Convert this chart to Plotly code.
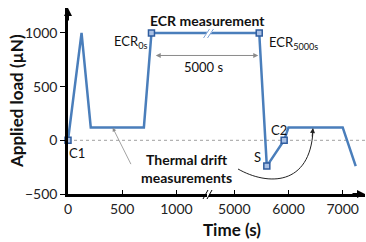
import plotly.graph_objects as go

# ---- data ----
time_s = [0, 125, 210, 700, 770, 5460, 5600, 5920, 6000, 7000, 7240]
load_uN = [0, 1000, 120, 120, 1000, 1000, -240, 0, 120, 120, -240]
marker_time = [0, 770, 5460, 5600, 5920]
marker_load = [0, 1000, 1000, -240, 0]
x1_ticks = [0, 500, 1000]
x2_ticks = [5000, 6000, 7000]
y_ticks = [-500, 0, 500, 1000]

FONT = "Lato"
BLUE = "#4a7ebb"

W, H = 366, 242
ML, MR, MT, MB = 68, 1, 8, 48
PW, PH = W - ML - MR, H - MT - MB


def px(x):
    return (x - ML) / PW


def py(y):
    return (H - MB - y) / PH


fig = go.Figure()
for xa in ["x", "x2"]:
    fig.add_trace(go.Scatter(x=time_s, y=load_uN, mode="lines", xaxis=xa, yaxis="y",
                             line=dict(color=BLUE, width=2.5), showlegend=False, hoverinfo="skip"))

mk = dict(symbol="square", size=6, color="#a9c0e4", line=dict(color="#2f5c9e", width=1.5))
fig.add_trace(go.Scatter(x=[t for t in marker_time if t < 1300],
                         y=[l for t, l in zip(marker_time, marker_load) if t < 1300],
                         mode="markers", xaxis="x", yaxis="y", cliponaxis=False, marker=mk, showlegend=False))
fig.add_trace(go.Scatter(x=[t for t in marker_time if t > 1300],
                         y=[l for t, l in zip(marker_time, marker_load) if t > 1300],
                         mode="markers", xaxis="x2", yaxis="y", cliponaxis=False, marker=mk, showlegend=False))

axis_common = dict(showgrid=False, zeroline=False, showline=True, linecolor="black", linewidth=2.5,
                   ticks="inside", ticklen=4, tickwidth=1, tickcolor="black", automargin=False,
                   tickfont=dict(family=FONT, size=14, color="#222"))
fig.update_layout(
    width=W, height=H, margin=dict(l=ML, r=MR, t=MT, b=MB, autoexpand=False),
    paper_bgcolor="white", plot_bgcolor="white",
    font=dict(family=FONT, color="#111"),
    xaxis=dict(domain=[0, px(207)], range=[0, (207 - 68) / 0.1084], anchor="y",
               tickvals=x1_ticks, **axis_common),
    xaxis2=dict(domain=[px(209), 1], range=[5000 - (234.3 - 209) / 0.0542, 5000 + (365 - 234.3) / 0.0542],
                anchor="y", tickvals=x2_ticks, **axis_common),
    yaxis=dict(range=[-500, 1232], anchor="x", tickvals=y_ticks, showgrid=False, zeroline=False,
               showline=True, linecolor="black", linewidth=2.5, ticks="outside", ticklen=5,
               tickcolor="black", tickfont=dict(family=FONT, size=14, color="#222"), automargin=False),
    showlegend=False,
)

shapes = []
# dashed zero line
shapes.append(dict(type="line", xref="paper", yref="y", x0=0, x1=1, y0=0, y1=0,
                   line=dict(color="#a0a0a0", width=1, dash="dot"), layer="below"))
# axis break marks
for xo in (203, 207):
    shapes.append(dict(type="line", xref="paper", yref="paper", x0=px(xo), y0=py(199), x1=px(xo + 5), y1=py(190),
                       line=dict(color="black", width=1)))
# data line break mark
shapes.append(dict(type="line", xref="paper", yref="paper", x0=px(205), y0=py(38), x1=px(212), y1=py(29),
                   line=dict(color="white", width=4)))
for xo in (203.5, 207.5):
    shapes.append(dict(type="line", xref="paper", yref="paper", x0=px(xo), y0=py(38), x1=px(xo + 6), y1=py(29),
                       line=dict(color="#7fa3d6", width=1)))
# curved arrow
p0, c1, c2, p3 = (238, 169), (268, 186), (310, 186), (313, 131)
path = "M {},{} C {},{} {},{} {},{}".format(px(p0[0]), py(p0[1]), px(c1[0]), py(c1[1]),
                                             px(c2[0]), py(c2[1]), px(p3[0]), py(p3[1]))
shapes.append(dict(type="path", xref="paper", yref="paper", path=path, line=dict(color="#222", width=1)))
fig.update_layout(shapes=shapes)

ann = []
# axis arrows
ann.append(dict(xref="paper", yref="paper", x=0, y=1, ax=0, ay=14, text="", showarrow=True,
                arrowhead=2, arrowsize=0.8, arrowwidth=2, arrowcolor="black"))
ann.append(dict(xref="paper", yref="paper", x=1, y=0, ax=-14, ay=0, text="", showarrow=True,
                arrowhead=2, arrowsize=0.8, arrowwidth=2, arrowcolor="black"))
# 5000 s double arrow
ann.append(dict(xref="x2", yref="y", x=5460, y=790, ax=-106, ay=0, text="", showarrow=True,
                arrowhead=2, startarrowhead=2, arrowside="end+start", arrowsize=1, arrowwidth=1,
                arrowcolor="#8a8a8a", standoff=1, startstandoff=1))
# thermal drift gray arrow
ann.append(dict(xref="x", yref="y", x=412, y=118, ax=19, ay=38, text="", showarrow=True,
                arrowhead=2, arrowsize=1, arrowwidth=0.8, arrowcolor="#8a8a8a"))
# curved arrow head
ann.append(dict(xref="paper", yref="paper", x=px(313), y=py(128), ax=-1, ay=10, text="", showarrow=True,
                arrowhead=2, arrowsize=1, arrowwidth=1, arrowcolor="#222"))


def label(text, x, y, size=13, bold=False, xanchor="center", angle=0):
    t = "<b>" + text + "</b>" if bold else text
    ann.append(dict(xref="paper", yref="paper", x=px(x), y=py(y), text=t, showarrow=False,
                    xanchor=xanchor, yanchor="middle", textangle=angle,
                    font=dict(family=FONT, size=size, color="#111")))


label("ECR measurement", 207, 20, size=14, bold=True)
label("ECR<sub>0s</sub>", 149, 42, size=13, xanchor="right")
label("ECR<sub>5000s</sub>", 267, 43, size=13, xanchor="left")
label("5000 s", 203, 67, size=13)
label("C1", 77, 153, size=13)
label("C2", 279, 130, size=13)
label("S", 257, 157, size=13)
label("Thermal drift<br>measurements", 186, 168, size=14, bold=True)
label("Time (s)", 232, 229, size=17, bold=True)
label("Applied load (µN)", 16, 101, size=17, bold=True, angle=-90)
fig.update_layout(annotations=ann)

fig.write_html("out.html", config={"displayModeBar": False},
               post_script="document.body.style.margin='0';document.body.style.overflow='hidden';")
